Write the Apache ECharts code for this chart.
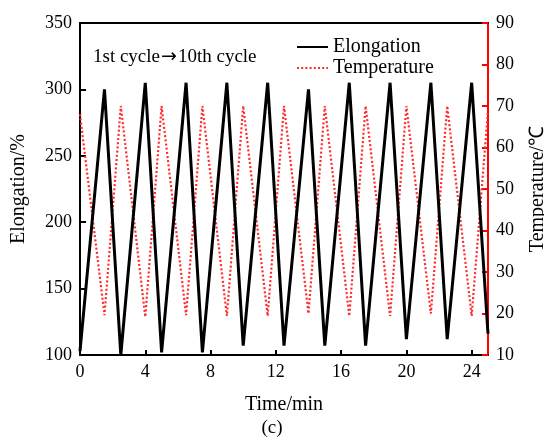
<!DOCTYPE html>
<html><head><meta charset="utf-8">
<script src="https://cdn.jsdelivr.net/npm/echarts@6/dist/echarts.min.js"></script>
<style>html,body{margin:0;padding:0;background:#fff}#c{width:544px;height:440px}</style>
</head><body><div id="c"></div>
<script>
const timeMin = [0, 1.5, 2.5, 4.0, 5.0, 6.5, 7.5, 9.0, 10.0, 11.5, 12.5, 14.0, 15.0, 16.5, 17.5, 19.0, 20.0, 21.5, 22.5, 24.0, 25.0];
const elongation = [103, 300, 100, 305, 102, 305, 102, 305, 107, 305, 107, 300, 107, 305, 107, 305, 112, 305, 112, 305, 116];
const temperature = [68, 19.6, 70, 19.2, 70, 19.6, 70, 19.4, 70, 19.4, 70, 20, 70, 19.4, 70, 19.4, 70, 20, 70, 19.4, 69];
const seriesNames = ['Elongation', 'Temperature'];
const xTitle = 'Time/min', yLeftTitle = 'Elongation/%', yRightTitle = 'Temperature/℃';
const noteParts = ['1st cycle', '→', '10th cycle'], caption = '(c)';

const F = '"Liberation Serif","Times New Roman",serif';
const chart = echarts.init(document.getElementById('c'), null, {renderer: 'canvas'});
chart.setOption({
  animation: false,
  backgroundColor: '#fff',
  grid: {left: 80, right: 56, top: 23, bottom: 85, containLabel: false, outerBoundsMode: 'none'},
  legend: {
    orient: 'vertical', left: 291, top: 32, itemGap: 1, itemWidth: 31, itemHeight: 14,
    itemStyle: {opacity: 0},
    textStyle: {fontFamily: F, fontSize: 20, color: '#000'},
    data: seriesNames.map(n => ({name: n}))
  },
  xAxis: [{
    type: 'value', min: 0, max: 25, interval: 4, position: 'bottom',
    name: xTitle, nameLocation: 'middle', nameGap: 40,
    nameTextStyle: {fontFamily: F, fontSize: 20, color: '#000'},
    axisLine: {onZero: false, lineStyle: {color: '#000', width: 2}},
    axisTick: {inside: true, length: 5, lineStyle: {color: '#000', width: 2}},
    axisLabel: {fontFamily: F, fontSize: 18, color: '#000', margin: 8, showMaxLabel: false},
    splitLine: {show: false}
  }, {
    type: 'value', min: 0, max: 25, position: 'top',
    axisLine: {show: true, onZero: false, lineStyle: {color: '#000', width: 2}},
    axisTick: {show: false}, axisLabel: {show: false}, splitLine: {show: false}
  }],
  yAxis: [{
    type: 'value', min: 100, max: 350, interval: 50, position: 'left',
    name: yLeftTitle, nameLocation: 'middle', nameGap: 51,
    nameTextStyle: {fontFamily: F, fontSize: 20, color: '#000'},
    axisLine: {show: true, onZero: false, lineStyle: {color: '#000', width: 2}},
    axisTick: {inside: true, length: 6, lineStyle: {color: '#000', width: 2}},
    axisLabel: {fontFamily: F, fontSize: 18, color: '#000', margin: 8},
    splitLine: {show: false}
  }, {
    type: 'value', min: 10, max: 90, interval: 10, position: 'right',
    name: yRightTitle, nameLocation: 'middle', nameGap: 40,
    nameTextStyle: {fontFamily: F, fontSize: 20, color: '#000'},
    axisLine: {show: true, onZero: false, lineStyle: {color: '#ff0000', width: 2}},
    axisTick: {inside: true, length: 6, lineStyle: {color: '#ff0000', width: 2}},
    axisLabel: {fontFamily: F, fontSize: 18, color: '#000', margin: 8},
    splitLine: {show: false}
  }],
  graphic: [
    {type: 'text', left: 93, top: 48, style: {
      text: '{t|' + noteParts[0] + '}{a|' + noteParts[1] + '}{t|' + noteParts[2] + '}',
      rich: {
        t: {fontFamily: F, fontSize: 19, fill: '#000', color: '#000'},
        a: {fontFamily: '"DejaVu Sans"', fontSize: 19, fill: '#000', color: '#000', padding: [0, 1, 0, 1]}
      }}},
    {type: 'text', left: 'center', top: 419, style: {text: caption, fontFamily: F, fontSize: 19, fill: '#000'}}
  ],
  series: [{
    name: seriesNames[1], type: 'line', xAxisIndex: 0, yAxisIndex: 1, symbol: 'none',
    data: timeMin.map((t, i) => [t, temperature[i]]),
    lineStyle: {color: '#ff2a2a', width: 2.2, type: [2, 2.2]}, itemStyle: {color: '#ff2a2a'}
  }, {
    name: seriesNames[0], type: 'line', xAxisIndex: 0, yAxisIndex: 0, symbol: 'none',
    data: timeMin.map((t, i) => [t, elongation[i]]),
    lineStyle: {color: '#000', width: 3}, itemStyle: {color: '#000'}
  }]
});
</script></body></html>
